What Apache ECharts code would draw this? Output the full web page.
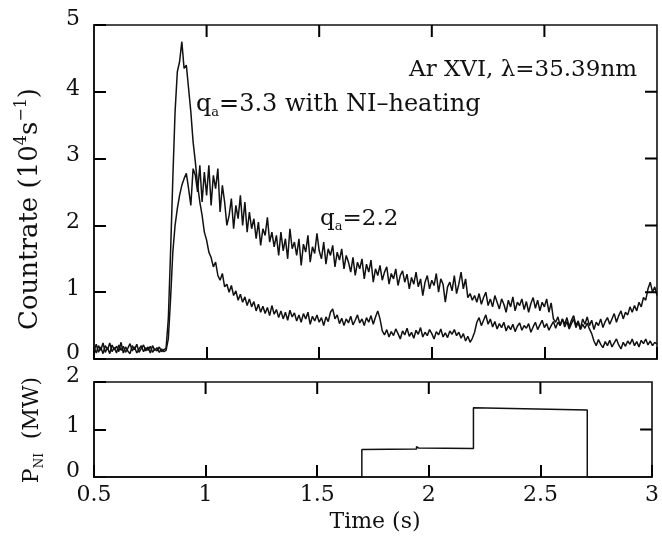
<!DOCTYPE html>
<html><head><meta charset="utf-8">
<script src="https://cdn.jsdelivr.net/npm/echarts@6/dist/echarts.min.js"></script>
<style>html,body{margin:0;padding:0;background:#fff}#c{width:662px;height:545px}</style>
</head><body><div id="c"></div>
<script>
// sampling grid of the count-rate traces (s)
const timeStart = 0.5, timeStep = 0.01;

// q_a = 3.3 with NI-heating (10^4 s^-1), one value per 0.01 s from 0.50 s
const countNI = [
 0.12,0.22,0.10,0.18,0.08,0.20,0.14,0.24,0.11,0.17,
 0.09,0.21,0.13,0.19,0.10,0.16,0.23,0.12,0.18,0.09,
 0.15,0.20,0.11,0.17,0.13,0.19,0.10,0.15,0.12,0.18,
 0.11,0.14,0.16,0.60,1.60,2.70,3.70,4.30,4.45,4.75,
 4.35,4.40,4.05,3.70,3.25,2.95,2.60,2.35,2.15,1.90,
 1.78,1.60,1.52,1.38,1.45,1.25,1.18,1.28,1.08,1.12,
 1.00,1.10,0.95,1.02,0.88,0.97,0.85,0.93,0.80,0.90,
 0.78,0.86,0.72,0.82,0.70,0.79,0.68,0.77,0.65,0.80,
 0.67,0.74,0.62,0.72,0.60,0.70,0.58,0.73,0.63,0.69,
 0.57,0.66,0.55,0.68,0.60,0.70,0.52,0.64,0.57,0.66,
 0.55,0.62,0.50,0.63,0.56,0.70,0.75,0.60,0.66,0.53,
 0.61,0.50,0.60,0.54,0.64,0.51,0.58,0.66,0.54,0.60,
 0.50,0.62,0.55,0.65,0.52,0.63,0.72,0.60,0.42,0.36,
 0.44,0.33,0.41,0.35,0.45,0.38,0.30,0.42,0.36,0.46,
 0.34,0.40,0.31,0.43,0.37,0.47,0.33,0.40,0.35,0.44,
 0.38,0.30,0.41,0.36,0.45,0.33,0.39,0.32,0.42,0.37,
 0.44,0.35,0.40,0.31,0.38,0.27,0.34,0.25,0.31,0.40,
 0.55,0.62,0.50,0.58,0.66,0.52,0.60,0.48,0.56,0.45,
 0.53,0.47,0.55,0.42,0.50,0.44,0.52,0.41,0.49,0.54,
 0.43,0.50,0.46,0.53,0.40,0.48,0.55,0.44,0.51,0.58,
 0.47,0.53,0.43,0.50,0.56,0.46,0.55,0.50,0.60,0.48,
 0.56,0.45,0.53,0.60,0.47,0.55,0.44,0.52,0.46,0.54,
 0.45,0.38,0.27,0.20,0.29,0.22,0.17,0.26,0.20,0.28,
 0.18,0.24,0.30,0.21,0.15,0.25,0.19,0.27,0.22,0.30,
 0.20,0.26,0.18,0.28,0.23,0.30,0.21,0.27,0.20,0.25,
 0.22
];

// q_a = 2.2 (10^4 s^-1), one value per 0.01 s from 0.50 s
const count22 = [
 0.18,0.09,0.20,0.13,0.24,0.10,0.17,0.08,0.21,0.14,
 0.19,0.11,0.25,0.09,0.18,0.12,0.08,0.20,0.14,0.22,
 0.10,0.16,0.21,0.12,0.18,0.09,0.20,0.13,0.17,0.10,
 0.15,0.11,0.13,0.30,0.90,1.60,2.00,2.25,2.45,2.60,
 2.70,2.78,2.55,2.30,2.85,2.75,2.50,2.90,2.35,2.80,
 2.45,2.90,2.30,2.75,2.55,2.85,2.20,2.60,2.35,2.00,
 2.15,2.40,1.95,2.30,2.10,2.45,2.00,2.35,1.90,2.20,
 1.95,2.10,1.80,2.05,1.70,1.95,1.85,2.12,1.75,1.90,
 1.68,1.85,1.55,1.90,1.62,1.80,1.50,1.95,1.65,1.75,
 1.55,1.80,1.40,1.72,1.60,1.85,1.45,1.68,1.58,1.88,
 1.62,1.50,1.75,1.42,1.65,1.55,1.70,1.38,1.60,1.48,
 1.65,1.35,1.55,1.45,1.30,1.52,1.25,1.45,1.35,1.50,
 1.20,1.42,1.30,1.48,1.15,1.35,1.25,1.40,1.18,1.30,
 1.38,1.12,1.28,1.20,1.35,1.10,1.25,1.32,1.15,1.27,
 1.05,1.22,1.12,1.30,1.08,1.20,0.95,1.15,1.25,1.05,
 1.18,1.10,1.28,1.00,1.20,1.12,0.85,1.08,1.15,1.02,
 1.25,0.98,1.12,1.30,1.05,1.20,0.92,0.98,0.88,0.95,
 0.85,0.98,0.82,0.92,1.00,0.80,0.90,0.78,0.95,0.85,
 0.75,0.90,0.82,0.70,0.88,0.78,0.93,0.72,0.85,0.80,
 0.90,0.74,0.86,0.70,0.83,0.92,0.76,0.88,0.72,0.85,
 0.78,0.90,0.70,0.84,0.60,0.55,0.63,0.50,0.60,0.52,
 0.62,0.48,0.58,0.65,0.50,0.57,0.45,0.60,0.52,0.63,
 0.50,0.58,0.44,0.55,0.50,0.60,0.47,0.56,0.62,0.52,
 0.60,0.68,0.55,0.65,0.72,0.60,0.70,0.66,0.78,0.70,
 0.80,0.72,0.85,0.78,0.92,0.88,1.05,1.15,1.00,1.08,
 0.95
];

// NI heating power (MW), step trace
const pniTime  = [0.5, 1.7, 1.7, 1.945, 1.945, 1.955, 2.2, 2.2, 2.71, 2.71, 3.0];
const pniValue = [0,   0,   0.58, 0.59, 0.64,  0.61,  0.60, 1.46, 1.41, 0,   0];

// tick positions
const timeTicks = [1, 1.5, 2, 2.5];
const countTicks = [1, 2, 3, 4];
const pniTicks = [1];

function toPairs(vals) {
  return vals.map((v, i) => [Math.round((timeStart + i * timeStep) * 1000) / 1000, v]);
}
const pniPairs = pniTime.map((t, i) => [t, pniValue[i]]);

const FONT = 'DejaVu Serif';
const INK = '#111';
const TL = 12;                 // tick length, px
const PLOT_W = 563, H0 = 334, H1 = 95;
const T_MIN = 0.5, T_MAX = 3;

function xAx(grid, showLabel) {
  return {
    type: 'value', gridIndex: grid, position: 'bottom', min: T_MIN, max: T_MAX, interval: 0.5,
    axisLine: { show: true, onZero: false, lineStyle: { color: INK, width: 1.6 } },
    axisTick: { show: true, inside: true, length: TL, lineStyle: { color: '#000', width: 2 } },
    splitLine: { show: false },
    axisLabel: { show: showLabel, fontFamily: FONT, fontSize: 22, color: INK, margin: 7 }
  };
}
function yAx(grid, max) {
  return {
    type: 'value', gridIndex: grid, position: 'left', min: 0, max: max, interval: 1,
    axisLine: { show: true, onZero: false, lineStyle: { color: INK, width: 1.6 } },
    axisTick: { show: true, inside: true, length: TL, lineStyle: { color: '#000', width: 2 } },
    splitLine: { show: false },
    axisLabel: {
      show: true, fontFamily: FONT, fontSize: 22, color: INK, margin: 14,
      formatter: v => (v === 0 || v === max) ? '{e|' + v + '}' : '{n|' + v + '}',
      rich: {
        e: { fontFamily: FONT, fontSize: 22, color: INK, padding: [0, 0, 12, 0] },
        n: { fontFamily: FONT, fontSize: 22, color: INK, padding: [0, 0, 6, 0] }
      }
    }
  };
}
// inward tick marks on the top and right frame sides, drawn as short broken segments
function tickData(yMax, plotH, yTicks) {
  const dy = TL * yMax / plotH;
  const dx = TL * (T_MAX - T_MIN) / PLOT_W;
  const d = [];
  timeTicks.forEach(t => { d.push([t, yMax], [t, yMax - dy], [t, '-']); });
  yTicks.forEach(v => { d.push([T_MAX, v], [T_MAX - dx, v], [T_MAX, '-']); });
  return d;
}
function tickSeries(idx, yMax, plotH, yTicks) {
  return { type: 'line', xAxisIndex: idx, yAxisIndex: idx, data: tickData(yMax, plotH, yTicks),
    showSymbol: false, lineStyle: { color: '#000', width: 2 } };
}

const richSub = {
  a: { fontFamily: FONT, fontSize: 23, fill: INK, lineHeight: 28 },
  s: { fontFamily: FONT, fontSize: 13, fill: INK, lineHeight: 14, verticalAlign: 'bottom' }
};
const texts = [
  { type: 'text', x: 30, y: 209, rotation: Math.PI / 2,
    style: { text: '{a|Countrate (10}{s|4}{a|s}{s|−1}{a|)}', align: 'center', verticalAlign: 'middle',
      rich: { a: { fontFamily: FONT, fontSize: 26, fill: INK, lineHeight: 32 },
              s: { fontFamily: FONT, fontSize: 16, fill: INK, lineHeight: 16, verticalAlign: 'top' } } } },
  { type: 'text', x: 32, y: 430, rotation: Math.PI / 2,
    style: { text: '{a|P}{s|NI}{a|  (MW)}', align: 'center', verticalAlign: 'middle',
      rich: { a: { fontFamily: FONT, fontSize: 22, fill: INK, lineHeight: 28 },
              s: { fontFamily: FONT, fontSize: 12, fill: INK, lineHeight: 14, verticalAlign: 'bottom' } } } },
  { type: 'text', x: 375, y: 522,
    style: { text: 'Time (s)', fontFamily: FONT, fontSize: 22, fill: INK, align: 'center', verticalAlign: 'middle' } },
  { type: 'text', x: 637, y: 70,
    style: { text: 'Ar XVI, λ=35.39nm', fontFamily: FONT, fontSize: 23, fill: INK, align: 'right', verticalAlign: 'middle' } },
  { type: 'text', x: 196, y: 105,
    style: { text: '{a|q}{s|a}{a|=3.3 with NI–heating}', align: 'left', verticalAlign: 'middle',
      rich: { a: { fontFamily: FONT, fontSize: 24, fill: INK, lineHeight: 28 },
              s: { fontFamily: FONT, fontSize: 13, fill: INK, lineHeight: 14, verticalAlign: 'bottom' } } } },
  { type: 'text', x: 320, y: 219,
    style: { text: '{a|q}{s|a}{a|=2.2}', align: 'left', verticalAlign: 'middle', rich: richSub } }
];

const chart = echarts.init(document.getElementById('c'), null, { renderer: 'canvas' });
chart.setOption({
  animation: false,
  grid: [
    { left: 94, right: 5, top: 25, height: H0, show: true, borderColor: INK, borderWidth: 1.6 },
    { left: 94, right: 5, top: 382, height: H1, show: true, borderColor: INK, borderWidth: 1.6 }
  ],
  xAxis: [xAx(0, false), xAx(1, true)],
  yAxis: [yAx(0, 5), yAx(1, 2)],
  series: [
    { type: 'line', xAxisIndex: 0, yAxisIndex: 0, data: toPairs(count22), showSymbol: false,
      lineStyle: { color: INK, width: 1.5 } },
    { type: 'line', xAxisIndex: 0, yAxisIndex: 0, data: toPairs(countNI), showSymbol: false,
      lineStyle: { color: INK, width: 1.5 } },
    { type: 'line', xAxisIndex: 1, yAxisIndex: 1, data: pniPairs, showSymbol: false,
      lineStyle: { color: INK, width: 1.5 } },
    tickSeries(0, 5, H0, countTicks),
    tickSeries(1, 2, H1, pniTicks)
  ],
  graphic: texts
});
</script>
</body></html>
